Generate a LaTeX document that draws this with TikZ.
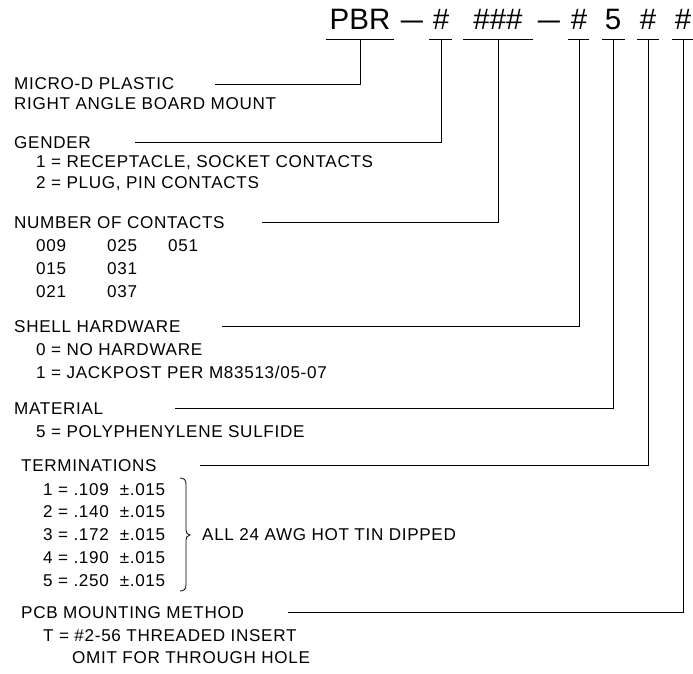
\documentclass[tikz,border=0pt]{standalone}
\usepackage{fontspec}
\setmainfont{Liberation Sans}[LetterSpace=4]
\newfontfamily\codefont{Liberation Sans}
\begin{document}
\begin{tikzpicture}[x=1pt,y=-1pt,
  lbl/.style={anchor=base west,inner sep=0pt,font=\fontsize{17.1}{18}\selectfont},
  code/.style={anchor=base,inner sep=0pt,font=\codefont\fontsize{29.5}{30}\selectfont},
  ln/.style={line width=0.9pt,black}]
\useasboundingbox (0,0) rectangle (693,674);
% code line
\node[code] (pbr) at (360,30) {PBR};
\node[code] (d1) at (412,30) {\scalebox{1.35}[1]{\textendash}};
\node[code] (g) at (441,30) {\#};
\node[code] (n) at (498,30) {\#\#\#};
\node[code] (d2) at (549,30) {\scalebox{1.35}[1]{\textendash}};
\node[code] (sh) at (579,30) {\#};
\node[code] (m) at (613,30) {5};
\node[code] (t) at (648,30) {\#};
\node[code] (p) at (683,30) {\#};
% underlines
\draw[ln] (326,39) -- (394,39);
\draw[ln] (429,39) -- (452,39);
\draw[ln] (463,39) -- (533,39);
\draw[ln] (568,39) -- (589,39);
\draw[ln] (602,39) -- (625,39);
\draw[ln] (637,39) -- (659,39);
\draw[ln] (672,39) -- (693,39);
% labels
\node[lbl] (l1) at (14,90) {MICRO-D PLASTIC};
\node[lbl] (l1b) at (14,110) {RIGHT ANGLE BOARD MOUNT};
\node[lbl] (l2) at (14,148) {GENDER};
\node[lbl] (l2a) at (36,167) {1 = RECEPTACLE, SOCKET CONTACTS};
\node[lbl] (l2b) at (36,188) {2 = PLUG, PIN CONTACTS};
\node[lbl] (l3) at (14,228) {NUMBER OF CONTACTS};
\node[lbl] (c1) at (36,251) {009};
\node[lbl] (c2) at (107,251) {025};
\node[lbl] (c3) at (168,251) {051};
\node[lbl] (c4) at (36,274) {015};
\node[lbl] (c5) at (107,274) {031};
\node[lbl] (c6) at (36,297) {021};
\node[lbl] (c7) at (107,297) {037};
\node[lbl] (l4) at (14,332) {SHELL HARDWARE};
\node[lbl] (l4a) at (36,355) {0 = NO HARDWARE};
\node[lbl] (l4b) at (36,378) {1 = JACKPOST PER M83513/05-07};
\node[lbl] (l5) at (14,414) {MATERIAL};
\node[lbl] (l5a) at (36,437) {5 = POLYPHENYLENE SULFIDE};
\node[lbl] (l6) at (21,471) {TERMINATIONS};
\node[lbl] (t1) at (43,495) {1 = .109 \ ±.015};
\node[lbl] (t2) at (43,517) {2 = .140 \ ±.015};
\node[lbl] (t3) at (43,540) {3 = .172 \ ±.015};
\node[lbl] (t4) at (43,563) {4 = .190 \ ±.015};
\node[lbl] (t5) at (43,586) {5 = .250 \ ±.015};
\node[lbl] (all) at (202,540) {ALL 24 AWG HOT TIN DIPPED};
\node[lbl] (l7) at (21,618) {PCB MOUNTING METHOD};
\node[lbl] (l7a) at (43,641) {T = \#2-56 THREADED INSERT};
\node[lbl] (l7b) at (72,663) {OMIT FOR THROUGH HOLE};
% leader coordinates
\coordinate (s1) at (215,84);
\coordinate (s2) at (135,142);
\coordinate (s3) at (262,222);
\coordinate (s4) at (222,326);
\coordinate (s5) at (175,408);
\coordinate (s6) at (200,465);
\coordinate (s7) at (288,612);
\draw[ln] (s1) -| (pbr.south |- 0,39);
\draw[ln] (s2) -| (g.south |- 0,39);
\draw[ln] (s3) -| (n.south |- 0,39);
\draw[ln] (s4) -| (sh.south |- 0,39);
\draw[ln] (s5) -| (m.south |- 0,39);
\draw[ln] (s6) -| (t.south |- 0,39);
\draw[ln] (s7) -| (p.south |- 0,39);
% brace
\draw[line width=0.8pt] (180,478) .. controls (184,478) and (186,480) .. (186,484)
  -- (186,530) .. controls (186,533) and (187,534) .. (190,535)
  .. controls (187,536) and (186,537) .. (186,540)
  -- (186,585) .. controls (186,589) and (184,591) .. (180,591);
\end{tikzpicture}
\end{document}
